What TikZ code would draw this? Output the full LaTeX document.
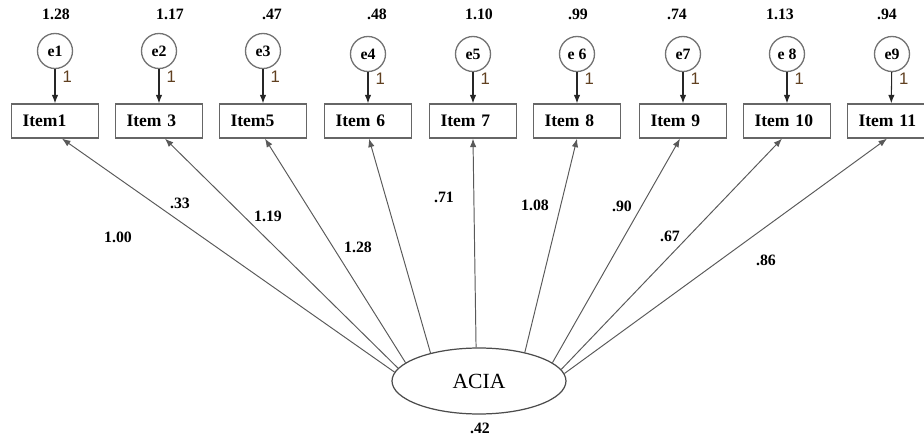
\documentclass[tikz,border=0pt]{standalone}
\usepackage{fontspec}
\setmainfont{Liberation Serif}
\newfontfamily\onefont{Liberation Sans}
\usetikzlibrary{arrows.meta,shapes.geometric}

\begin{document}
\begin{tikzpicture}[x=0.02cm, y=-0.02cm,
		itembox/.style={draw=black!60, line width=0.75pt, minimum width=1.74cm, minimum height=0.68cm,
			inner xsep=0.22cm, text width=1.30cm, align=left, font=\fontsize{10}{12}\selectfont\bfseries},
		errc/.style={circle, draw=black!55, line width=0.75pt, minimum size=0.70cm, inner sep=0pt,
			font=\fontsize{9}{10}\selectfont\bfseries},
		numlab/.style={font=\fontsize{9}{10}\selectfont\bfseries},
		onelab/.style={pos=0.22, right=0.14cm, inner sep=0pt, text=black!50!brown, font=\onefont\fontsize{9.5}{10}\selectfont},
		errarrow/.style={draw=black!85, line width=0.6pt, -{Latex[length=0.17cm, width=0.13cm]}},
		loadarrow/.style={draw=black!65, line width=0.55pt, -{Latex[length=0.17cm, width=0.13cm]}}]

		      		\useasboundingbox (0,0) rectangle (924,439);

		      		% latent factor
		      		\node[ellipse, draw=black!70, line width=0.7pt, minimum width=3.48cm, minimum height=1.32cm,
		      			font=\fontsize{12.3}{14}\selectfont] (acia) at (479,381) {ACIA};
		      		\node[numlab] (vacia) at (480,428) {.42};

		      		% observed items
		      		\node[itembox] (i1) at (55,121) {Item1};
		      		\node[itembox] (i3) at (159,121) {Item 3};
		      		\node[itembox] (i5) at (263,121) {Item5};
		      		\node[itembox] (i6) at (368,121) {Item 6};
		      		\node[itembox] (i7) at (473,121) {Item 7};
		      		\node[itembox] (i8) at (577,121) {Item 8};
		      		\node[itembox] (i9) at (683,121) {Item 9};
		      		\node[itembox] (i10) at (787,121) {Item 10};
		      		\node[itembox] (i11) at (891,121) {Item 11};

		      		% error terms
		      		\node[errc] (e1) at (55,51) {e1};
		      		\node[errc] (e2) at (159,51) {e2};
		      		\node[errc] (e3) at (263,51) {e3};
		      		\node[errc] (e4) at (368,54) {e4};
		      		\node[errc] (e5) at (473,54) {e5};
		      		\node[errc] (e6) at (577,54) {e 6};
		      		\node[errc] (e7) at (683,54) {e7};
		      		\node[errc] (e8) at (787,54) {e 8};
		      		\node[errc] (e9) at (892,54) {e9};

		      		% error variances
		      		\node[numlab] (v1) at (56,14) {1.28};
		      		\node[numlab] (v2) at (170,14) {1.17};
		      		\node[numlab] (v3) at (272,14) {.47};
		      		\node[numlab] (v4) at (377,14) {.48};
		      		\node[numlab] (v5) at (479,14) {1.10};
		      		\node[numlab] (v6) at (578,14) {.99};
		      		\node[numlab] (v7) at (677,14) {.74};
		      		\node[numlab] (v8) at (780,14) {1.13};
		      		\node[numlab] (v9) at (887,14) {.94};

		      		\draw[errarrow] (e1) -- node[onelab] {1} (i1);
		      		\draw[errarrow] (e2) -- node[onelab] {1} (i3);
		      		\draw[errarrow] (e3) -- node[onelab] {1} (i5);
		      		\draw[errarrow] (e4) -- node[onelab] {1} (i6);
		      		\draw[errarrow] (e5) -- node[onelab] {1} (i7);
		      		\draw[errarrow] (e6) -- node[onelab] {1} (i8);
		      		\draw[errarrow] (e7) -- node[onelab] {1} (i9);
		      		\draw[errarrow] (e8) -- node[onelab] {1} (i10);
		      		\draw[errarrow] (e9) -- node[onelab] {1} (i11);

		      		% loadings
		      		\draw[loadarrow] (acia.174) -- ([xshift=0.14cm]i1.south);
		      		\draw[loadarrow] (acia.171) -- ([xshift=0.12cm]i3.south);
		      		\draw[loadarrow] (acia.166) -- ([xshift=0.04cm]i5.south);
		      		\draw[loadarrow] (acia.150) -- ([xshift=0.02cm]i6.south);
		      		\draw[loadarrow] (acia.95) -- (i7.south);
		      		\draw[loadarrow] (acia.32) -- (i8.south);
		      		\draw[loadarrow] (acia.14) -- ([xshift=-0.06cm]i9.south);
		      		\draw[loadarrow] (acia.8) -- ([xshift=-0.10cm]i10.south);
		      		\draw[loadarrow] (acia.5) -- ([xshift=-0.08cm]i11.south);

		      		\node[numlab] (w1) at (118,237) {1.00};
		      		\node[numlab] (w3) at (180,203) {.33};
		      		\node[numlab] (w5) at (268,216) {1.19};
		      		\node[numlab] (w6) at (358,247) {1.28};
		      		\node[numlab] (w7) at (444,197) {.71};
		      		\node[numlab] (w8) at (535,205) {1.08};
		      		\node[numlab] (w9) at (622,206) {.90};
		      		\node[numlab] (w10) at (670,236) {.67};
		      		\node[numlab] (w11) at (766,260) {.86};
		      	\end{tikzpicture}
\end{document}
